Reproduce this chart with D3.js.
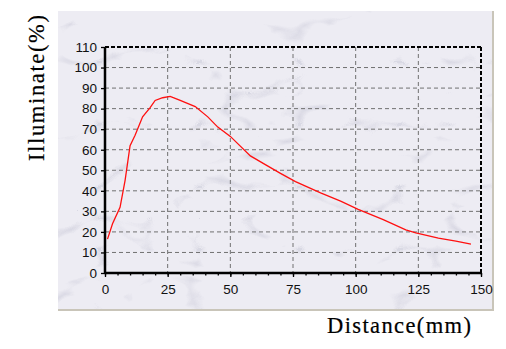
<!DOCTYPE html>
<html><head><meta charset="utf-8">
<script src="https://cdn.jsdelivr.net/npm/d3@7"></script>
<style>body{margin:0;background:#fff;overflow:hidden}</style>
</head><body>
<svg id="chart" width="506" height="349"></svg>
<script>
// ---- data ----
const distance   = [1, 3, 6, 8, 10, 12, 15, 18, 20, 23, 26, 30, 36, 41, 45, 50, 58, 65, 70, 76, 86, 94, 101, 111, 120, 124, 133, 140, 146];
const illuminate = [16.5, 24, 32, 45, 62, 67, 76, 80.5, 84, 85.3, 86, 84, 81, 76, 71, 66.5, 57, 52, 48.5, 44.5, 39, 35, 31, 26, 21, 19.5, 17, 15.5, 14];
const xTicks = [0, 25, 50, 75, 100, 125, 150];
const yTicks = [0, 10, 20, 30, 40, 50, 60, 70, 80, 90, 100, 110];
const xMinorTicks = d3.range(0, 151, 5);
const xTitle = "Distance(mm)";
const yTitle = "Illuminate(%)";

const svg = d3.select("#chart");
const L = 105, R = 481, T = 47, B = 273;
const x = d3.scaleLinear().domain([0, 150]).range([L, R]);
const y = d3.scaleLinear().domain([0, 110]).range([B, T]);

// marble-like panel
const defs = svg.append("defs");
const f = defs.append("filter").attr("id", "marble").attr("x", 0).attr("y", 0).attr("width", 1).attr("height", 1);
f.append("feTurbulence").attr("type", "turbulence").attr("baseFrequency", "0.010 0.016").attr("numOctaves", 3).attr("seed", 11).attr("result", "t");
f.append("feColorMatrix").attr("in", "t").attr("type", "matrix")
  .attr("values", "0 0 0 0 0.42  0 0 0 0 0.42  0 0 0 0 0.54  -3.2 0 0 0 0.42").attr("result", "c");
f.append("feComposite").attr("in", "c").attr("in2", "SourceGraphic").attr("operator", "in");

svg.append("rect").attr("x", 58).attr("y", 11).attr("width", 435).attr("height", 298).attr("fill", "#edecf3");
svg.append("rect").attr("x", 58).attr("y", 11).attr("width", 435).attr("height", 298).attr("fill", "#edecf3").attr("filter", "url(#marble)").attr("opacity", 0.75);
// panel shadow edges
svg.append("line").attr("x1", 493).attr("x2", 493).attr("y1", 11).attr("y2", 310).attr("stroke", "#c9c5b9").attr("stroke-width", 2);
svg.append("line").attr("x1", 58).attr("x2", 494).attr("y1", 310).attr("y2", 310).attr("stroke", "#c9c5b9").attr("stroke-width", 2);

// grid
const g = svg.append("g");
g.selectAll(".gx").data(xTicks.filter(d => d > 0 && d < 150)).join("line")
  .attr("x1", d => x(d)).attr("x2", d => x(d)).attr("y1", T).attr("y2", B)
  .attr("stroke", "#707070").attr("stroke-width", 1).attr("stroke-dasharray", "4,3");
g.selectAll(".gy").data(yTicks.filter(d => d > 0 && d < 110)).join("line")
  .attr("x1", L).attr("x2", R).attr("y1", d => y(d)).attr("y2", d => y(d))
  .attr("stroke", "#707070").attr("stroke-width", 1).attr("stroke-dasharray", "4,3");

// frame: top and right dashed black
svg.append("line").attr("x1", L).attr("x2", R + 1).attr("y1", T).attr("y2", T)
  .attr("stroke", "#000").attr("stroke-width", 2).attr("stroke-dasharray", "4,2");
svg.append("line").attr("x1", R).attr("x2", R).attr("y1", T).attr("y2", B)
  .attr("stroke", "#000").attr("stroke-width", 2).attr("stroke-dasharray", "4,2");

// axes
const font = "'Liberation Sans', Arial, sans-serif";
const ax = svg.append("g").attr("transform", `translate(0,${B})`)
  .call(d3.axisBottom(x).tickValues(xTicks).tickSize(4).tickPadding(7).tickFormat(d3.format("d")));
const axm = svg.append("g").attr("transform", `translate(0,${B})`)
  .call(d3.axisBottom(x).tickValues(xMinorTicks).tickSize(2.5).tickFormat(""));
const ay = svg.append("g").attr("transform", `translate(${L},0)`)
  .call(d3.axisLeft(y).tickValues(yTicks).tickSize(4).tickPadding(4).tickFormat(d3.format("d")));
[ax, axm, ay].forEach(a => {
  a.select(".domain").remove();
  a.selectAll("line").attr("stroke", "#000").attr("stroke-width", 1.3);
  a.selectAll("text").attr("font-family", font).attr("font-size", 13.5).attr("fill", "#111");
});
svg.append("line").attr("x1", L).attr("x2", R + 1).attr("y1", B).attr("y2", B).attr("stroke", "#000").attr("stroke-width", 2.5);
svg.append("line").attr("x1", L).attr("x2", L).attr("y1", T).attr("y2", B + 1).attr("stroke", "#000").attr("stroke-width", 2.5);

// curve
const pts = distance.map((d, i) => [d, illuminate[i]]);
svg.append("path").datum(pts)
  .attr("d", d3.line().x(d => x(d[0])).y(d => y(d[1])).curve(d3.curveLinear))
  .attr("fill", "none").attr("stroke", "#ff1010").attr("stroke-width", 1.3);

// titles
const serif = "'Liberation Serif', 'Times New Roman', serif";
svg.append("text").attr("x", 327).attr("y", 333).text(xTitle)
  .attr("font-family", serif).attr("font-size", 22.5).attr("fill", "#000")
  .attr("stroke", "#000").attr("stroke-width", 0.2)
  .attr("textLength", 144).attr("lengthAdjust", "spacing");
svg.append("text").attr("transform", "translate(44,161) rotate(-90)").text(yTitle)
  .attr("font-family", serif).attr("font-size", 22.5).attr("fill", "#000")
  .attr("stroke", "#000").attr("stroke-width", 0.2)
  .attr("textLength", 146).attr("lengthAdjust", "spacing");
</script>
</body></html>
